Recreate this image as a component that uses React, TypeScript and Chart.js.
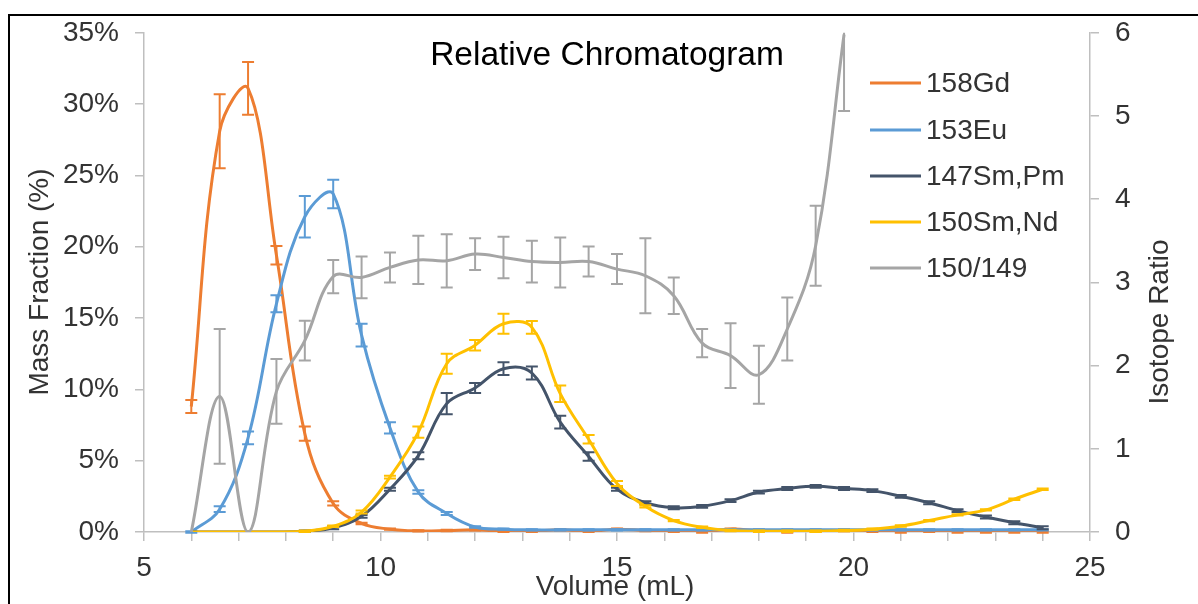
import React, { useEffect, useRef } from 'react';
import { Chart, registerables } from 'chart.js';

Chart.register(...registerables);

// ---------- data ----------
const volumes = [6.0, 6.6, 7.2, 7.8, 8.4, 9.0, 9.6, 10.2, 10.8, 11.4, 12.0, 12.6, 13.2, 13.8, 14.4, 15.0, 15.6, 16.2, 16.8, 17.4, 18.0, 18.6, 19.2, 19.8, 20.4, 21.0, 21.6, 22.2, 22.8, 23.4, 24.0];

const seriesLabels = ['158Gd', '153Eu', '147Sm,Pm', '150Sm,Nd', '150/149'];

const gd158 = [8.8, 28.1, 31.1, 19.4, 6.9, 2.0, 0.6, 0.2, 0.08, 0.1, 0.15, 0.05, 0.05, 0.15, 0.05, 0.2, 0.1, 0.05, 0.0, 0.2, 0.1, 0.0, 0.05, 0.1, 0.05, 0.0, 0.05, 0.0, 0.0, 0.0, 0.0];
const gd158Err = [0.45, 2.6, 1.85, 0.65, 0.5, 0.15, 0.05, 0.05, 0.05, 0.05, 0.05, 0.05, 0.05, 0.05, 0.05, 0.05, 0.05, 0.05, 0.05, 0.05, 0.05, 0.05, 0.05, 0.05, 0.05, 0.05, 0.05, 0.05, 0.05, 0.05, 0.05];

const eu153 = [0.0, 1.6, 6.6, 16.0, 22.1, 23.7, 13.8, 7.3, 2.8, 1.3, 0.35, 0.2, 0.15, 0.15, 0.15, 0.15, 0.15, 0.15, 0.15, 0.15, 0.15, 0.15, 0.15, 0.15, 0.15, 0.15, 0.15, 0.15, 0.15, 0.15, 0.15];
const eu153Err = [0.05, 0.2, 0.45, 0.6, 1.45, 1.0, 0.8, 0.4, 0.12, 0.1, 0.05, 0.05, 0.05, 0.05, 0.05, 0.05, 0.05, 0.05, 0.05, 0.05, 0.05, 0.05, 0.05, 0.05, 0.05, 0.05, 0.05, 0.05, 0.05, 0.05, 0.05];

const sm147 = [0, 0, 0, 0, 0.05, 0.3, 1.1, 3.0, 5.35, 9.0, 10.1, 11.45, 11.15, 7.7, 5.3, 3.0, 2.05, 1.7, 1.8, 2.2, 2.8, 3.05, 3.2, 3.05, 2.9, 2.5, 2.05, 1.5, 1.05, 0.65, 0.3];
const sm147Err = [0, 0, 0, 0, 0.05, 0.1, 0.1, 0.1, 0.25, 0.75, 0.35, 0.45, 0.45, 0.45, 0.3, 0.1, 0.1, 0.1, 0.1, 0.1, 0.1, 0.1, 0.1, 0.1, 0.1, 0.1, 0.1, 0.1, 0.1, 0.1, 0.1];

const sm150 = [0, 0, 0, 0, 0.05, 0.4, 1.4, 3.85, 7.0, 11.8, 13.1, 14.6, 14.35, 9.7, 6.5, 3.4, 1.8, 0.8, 0.33, 0.1, 0.05, 0.05, 0.05, 0.1, 0.2, 0.42, 0.8, 1.2, 1.55, 2.3, 3.0];
const sm150Err = [0, 0, 0, 0, 0.05, 0.05, 0.1, 0.1, 0.4, 0.7, 0.37, 0.7, 0.45, 0.58, 0.3, 0.17, 0.08, 0.05, 0.05, 0.05, 0.05, 0.05, 0.05, 0.05, 0.05, 0.05, 0.05, 0.05, 0.05, 0.05, 0.05];

const ratio150149 = [0, 1.63, 0, 1.69, 2.3, 3.07, 3.06, 3.18, 3.27, 3.26, 3.34, 3.30, 3.25, 3.24, 3.25, 3.16, 3.08, 2.84, 2.27, 2.12, 1.89, 2.44, 3.44, 5.98, null, null, null, null, null, null, null];
const ratio150149Err = [0, 0.81, 0, 0.39, 0.24, 0.2, 0.25, 0.18, 0.29, 0.32, 0.19, 0.25, 0.25, 0.3, 0.18, 0.18, 0.45, 0.22, 0.17, 0.39, 0.35, 0.38, 0.48, 0.92, null, null, null, null, null, null, null];

const massTicks = [0, 5, 10, 15, 20, 25, 30, 35];
const ratioTicks = [0, 1, 2, 3, 4, 5, 6];
const volumeLabelTicks = [5, 10, 15, 20, 25];

const chartTitle = 'Relative Chromatogram';
const xTitle = 'Volume (mL)';
const yTitle = 'Mass Fraction (%)';
const y1Title = 'Isotope Ratio';

// ---------- styles ----------
const FONT = '"Liberation Sans", Arial, Helvetica, sans-serif';
const TEXT = '#333333';
const AXIS = '#BFBFBF';
const seriesColors = ['#ED7D31', '#5B9BD5', '#44546A', '#FFC000', '#A5A5A5'];

function makePoints(ys: (number | null)[]) {
  const pts: { x: number; y: number }[] = [];
  volumes.forEach((x, i) => {
    const y = ys[i];
    if (y !== null && y !== undefined) pts.push({ x, y });
  });
  return pts;
}

const frameAndTextPlugin = {
  id: 'frameAndText',
  beforeDraw(chart: any) {
    const ctx = chart.ctx;
    ctx.save();
    ctx.fillStyle = '#ffffff';
    ctx.fillRect(0, 0, chart.width, chart.height);
    ctx.fillStyle = '#000000';
    ctx.fillRect(8, 14, chart.width - 8, 2);
    ctx.fillRect(8, 14, 2, chart.height - 14);
    ctx.restore();
  },
  afterDraw(chart: any) {
    const ctx = chart.ctx;
    ctx.save();
    // title
    ctx.fillStyle = '#000000';
    ctx.font = `33.5px ${FONT}`;
    ctx.textAlign = 'center';
    ctx.textBaseline = 'alphabetic';
    ctx.fillText(chartTitle, 607, 65);

    // axis titles
    ctx.fillStyle = TEXT;
    ctx.font = `28px ${FONT}`;
    ctx.textBaseline = 'middle';
    ctx.fillText(xTitle, 615, 587);

    ctx.save();
    ctx.translate(40, 282);
    ctx.rotate(-Math.PI / 2);
    ctx.fillText(yTitle, 0, 0);
    ctx.restore();

    ctx.save();
    ctx.translate(1160, 322);
    ctx.rotate(-Math.PI / 2);
    ctx.fillText(y1Title, 0, 0);
    ctx.restore();

    // legend
    const legendY = [83, 130, 176, 222, 268];
    ctx.textAlign = 'left';
    ctx.textBaseline = 'middle';
    seriesLabels.forEach((lab, i) => {
      ctx.strokeStyle = seriesColors[i];
      ctx.lineWidth = 3;
      ctx.beginPath();
      ctx.moveTo(870, legendY[i]);
      ctx.lineTo(921, legendY[i]);
      ctx.stroke();
      ctx.fillStyle = TEXT;
      ctx.fillText(lab, 926, legendY[i] + 1);
    });
    ctx.restore();
  },
};

const errorBarPlugin = {
  id: 'errorBars',
  afterDatasetDraw(chart: any, args: any) {
    const ds = chart.data.datasets[args.index];
    const errs: (number | null)[] = ds.errors;
    if (!errs) return;
    const meta = args.meta;
    const scale = chart.scales[ds.yAxisID];
    const area = chart.chartArea;
    const ctx = chart.ctx;
    ctx.save();
    ctx.beginPath();
    ctx.rect(area.left - 10, area.top, area.right - area.left + 20, area.bottom - area.top + 2);
    ctx.clip();
    ctx.strokeStyle = ds.borderColor;
    ctx.lineWidth = 2;
    meta.data.forEach((pt: any, j: number) => {
      const e = errs[j];
      const v = ds.data[j].y;
      if (e === null || e === undefined || e <= 0) return;
      const yTop = scale.getPixelForValue(v + e);
      const yBot = scale.getPixelForValue(v - e);
      const x = pt.x;
      ctx.beginPath();
      ctx.moveTo(x, yTop);
      ctx.lineTo(x, yBot);
      ctx.moveTo(x - 6, yTop);
      ctx.lineTo(x + 6, yTop);
      ctx.moveTo(x - 6, yBot);
      ctx.lineTo(x + 6, yBot);
      ctx.stroke();
    });
    ctx.restore();
  },
};

export default function App() {
  const ref = useRef<HTMLCanvasElement | null>(null);

  useEffect(() => {
    if (!ref.current) return;
    const allSeries = [gd158, eu153, sm147, sm150, ratio150149];
    const allErrs = [gd158Err, eu153Err, sm147Err, sm150Err, ratio150149Err];
    const datasets: any[] = allSeries.map((s, i) => ({
      label: seriesLabels[i],
      data: makePoints(s),
      errors: allErrs[i],
      borderColor: seriesColors[i],
      backgroundColor: seriesColors[i],
      borderWidth: 3,
      pointRadius: 0,
      tension: 0.38,
      fill: false,
      yAxisID: i === 4 ? 'y1' : 'y',
      order: 4 - i,
    }));

    const tickFont = { family: FONT, size: 28 };

    const chart = new Chart(ref.current, {
      type: 'line',
      data: { datasets },
      options: {
        animation: false,
        responsive: false,
        devicePixelRatio: 1,
        layout: { padding: { top: 32, left: 0, right: 0, bottom: 0 } },
        plugins: {
          legend: { display: false },
          tooltip: { enabled: false },
          title: { display: false },
        },
        elements: { point: { radius: 0 } },
        scales: {
          x: {
            type: 'linear',
            min: 5,
            max: 25,
            ticks: {
              stepSize: 1,
              autoSkip: false,
              maxRotation: 0,
              padding: 10,
              color: TEXT,
              font: tickFont,
              callback: (v: any) => (volumeLabelTicks.includes(Number(v)) ? String(v) : ''),
            },
            grid: { display: true, drawOnChartArea: false, drawTicks: true, tickLength: 9, color: AXIS, lineWidth: 1.5 },
            border: { display: true, color: AXIS, width: 1.5 },
            afterFit: (s: any) => { s.height = 72; },
          },
          y: {
            type: 'linear',
            position: 'left',
            min: 0,
            max: 35,
            afterBuildTicks: (s: any) => { s.ticks = massTicks.map((v) => ({ value: v })); },
            ticks: { padding: 16, color: TEXT, font: tickFont, callback: (v: any) => `${v}%` },
            grid: { display: true, drawOnChartArea: false, drawTicks: true, tickLength: 9, color: AXIS, lineWidth: 1.5 },
            border: { display: true, color: AXIS, width: 1.5 },
            afterFit: (s: any) => { s.width = 144; },
          },
          y1: {
            type: 'linear',
            position: 'right',
            min: 0,
            max: 6,
            afterBuildTicks: (s: any) => { s.ticks = ratioTicks.map((v) => ({ value: v })); },
            ticks: { padding: 16, color: TEXT, font: tickFont, callback: (v: any) => String(v) },
            grid: { display: true, drawOnChartArea: false, drawTicks: true, tickLength: 9, color: AXIS, lineWidth: 1.5 },
            border: { display: true, color: AXIS, width: 1.5 },
            afterFit: (s: any) => { s.width = 108; },
          },
        },
      } as any,
      plugins: [frameAndTextPlugin, errorBarPlugin],
    });
    return () => chart.destroy();
  }, []);

  return (
    <canvas
      ref={ref}
      width={1198}
      height={604}
      style={{ position: 'fixed', left: 0, top: 0, width: 1198, height: 604, display: 'block' }}
    />
  );
}
